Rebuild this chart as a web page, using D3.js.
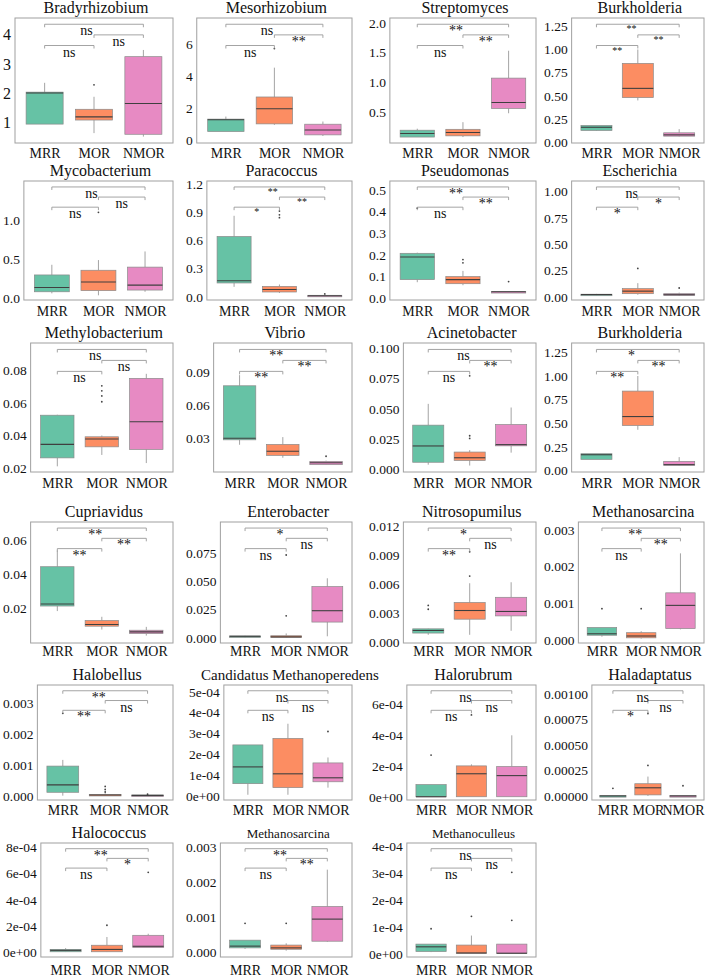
<!DOCTYPE html>
<html>
<head>
<meta charset="utf-8">
<script src="https://cdnjs.cloudflare.com/ajax/libs/d3/7.8.5/d3.min.js"></script>
<style>
  body { margin: 0; background: #fff; }
  svg text { font-family: "Liberation Serif", "Tinos", "DejaVu Serif", "Noto Serif", serif !important; fill: #111; }
</style>
</head>
<body>
<svg id="chart" width="709" height="978"></svg>
<script>
var groups = ["MRR", "MOR", "NMOR"];

var genera = ["Bradyrhizobium", "Mesorhizobium", "Streptomyces", "Burkholderia",
  "Mycobacterium", "Paracoccus", "Pseudomonas", "Escherichia",
  "Methylobacterium", "Vibrio", "Acinetobacter", "Burkholderia",
  "Cupriavidus", "Enterobacter", "Nitrosopumilus", "Methanosarcina",
  "Halobellus", "Candidatus Methanoperedens", "Halorubrum", "Haladaptatus",
  "Halococcus", "Methanosarcina", "Methanoculleus"];

// per genus, per group: [lower whisker, q1, median, q3, upper whisker]
var boxStats = [
  [[0.93, 0.93, 2.0, 2.03, 2.35], [0.62, 1.07, 1.18, 1.44, 1.87], [0.5, 0.58, 1.64, 3.25, 3.48]],
  [[0.53, 0.53, 1.27, 1.31, 1.47], [0.95, 1.01, 1.96, 2.7, 4.54], [0.25, 0.32, 0.63, 0.99, 1.16]],
  [[0.08, 0.08, 0.14, 0.195, 0.22], [0.08, 0.1, 0.157, 0.21, 0.33], [0.48, 0.56, 0.66, 1.07, 1.53]],
  [[0.12, 0.125, 0.16, 0.18, 0.18], [0.45, 0.48, 0.58, 0.85, 1.0], [0.06, 0.064, 0.078, 0.1, 0.14]],
  [[0.065, 0.085, 0.14, 0.3, 0.43], [0.04, 0.1, 0.21, 0.36, 0.49], [0.085, 0.107, 0.17, 0.4, 0.6]],
  [[0.105, 0.146, 0.17, 0.64, 0.86], [0.04, 0.05, 0.077, 0.11, 0.13], [0.005, 0.008, 0.01, 0.015, 0.02]],
  [[0.074, 0.086, 0.19, 0.207, 0.21], [0.06, 0.067, 0.086, 0.1, 0.126], [0.028, 0.029, 0.03, 0.031, 0.032]],
  [[0.015, 0.018, 0.022, 0.025, 0.028], [0.02, 0.03, 0.054, 0.078, 0.13], [0.01, 0.015, 0.02, 0.03, 0.04]],
  [[0.021, 0.0262, 0.0345, 0.0525, 0.0528], [0.028, 0.033, 0.0378, 0.0392, 0.04], [0.023, 0.0314, 0.0485, 0.0752, 0.078]],
  [[0.024, 0.0285, 0.03, 0.0779, 0.0876], [0.0121, 0.0143, 0.018, 0.0243, 0.031], [0.0055, 0.0058, 0.0076, 0.0088, 0.0095]],
  [[0.004, 0.006, 0.0194, 0.0365, 0.054], [0.0033, 0.0075, 0.0097, 0.0144, 0.016], [0.0139, 0.0195, 0.0205, 0.037, 0.051]],
  [[0.116, 0.116, 0.165, 0.176, 0.176], [0.43, 0.475, 0.57, 0.84, 1.0], [0.05, 0.053, 0.06, 0.095, 0.14]],
  [[0.018, 0.021, 0.0222, 0.0444, 0.054], [0.007, 0.009, 0.01, 0.0124, 0.0146], [0.0034, 0.0046, 0.0056, 0.0066, 0.0086]],
  [[0.0005, 0.0012, 0.0015, 0.0018, 0.002], [0.0002, 0.0005, 0.001, 0.002, 0.004], [0.0015, 0.014, 0.024, 0.0452, 0.0525]],
  [[0.00075, 0.00093, 0.0012, 0.00137, 0.0014], [0.00075, 0.00237, 0.00327, 0.0041, 0.0061], [0.00117, 0.00271, 0.00317, 0.00464, 0.0062]],
  [[0.0001, 0.00014, 0.00018, 0.00035, 0.00035], [0.00005, 0.00007, 0.00012, 0.00021, 0.00025], [0.0003, 0.00032, 0.00095, 0.00129, 0.00236]],
  [[0, 0.00011, 0.00035, 0.00096, 0.00116], [0, 0, 0.00002, 0.00004, 0.00008], [0, 0, 0.00001, 0.00002, 0.00003]],
  [[0.08e-4, 0.61e-4, 1.41e-4, 2.46e-4, 2.46e-4], [0.08e-4, 0.42e-4, 1.08e-4, 2.77e-4, 3.47e-4], [0.42e-4, 0.7e-4, 0.89e-4, 1.6e-4, 1.86e-4]],
  [[0, 0, 0, 0.79e-4, 0.8e-4], [0, 0, 1.49e-4, 2.0e-4, 2.1e-4], [0, 0, 1.37e-4, 1.96e-4, 3.98e-4]],
  [[0, 0, 0, 0.000003, 0.000005], [0, 0.00001, 0.00008, 0.00012, 0.00019], [0, 0, 0, 0.000003, 0.000005]],
  [[0, 0.02e-4, 0.13e-4, 0.2e-4, 0.3e-4], [0, 0.02e-4, 0.2e-4, 0.52e-4, 1.15e-4], [0.34e-4, 0.34e-4, 0.44e-4, 1.28e-4, 1.4e-4]],
  [[0.0001, 0.00013, 0.00018, 0.00035, 0.00035], [0.00005, 0.00009, 0.00013, 0.00021, 0.00026], [0.0003, 0.00032, 0.00095, 0.00131, 0.00236]],
  [[0.08e-4, 0.1e-4, 0.275e-4, 0.375e-4, 0.375e-4], [0.03e-4, 0.03e-4, 0.05e-4, 0.34e-4, 0.69e-4], [0.03e-4, 0.03e-4, 0.04e-4, 0.375e-4, 0.375e-4]]
];

var outliers = [
  [[], [2.28], []],
  [[], [5.74], []],
  [[], [], []],
  [[], [], []],
  [[], [1.1], []],
  [[], [0.91, 0.87, 0.84], [0.03]],
  [[0.415], [0.178, 0.163], [0.077]],
  [[], [0.27], [0.084]],
  [[], [0.0706, 0.0675, 0.0644, 0.0608], []],
  [[], [], [0.0135]],
  [[], [0.0278, 0.0256, 0.077], []],
  [[], [], []],
  [[], [], []],
  [[], [0.0195, 0.073], []],
  [[0.0038, 0.0034], [0.00684, 0.00936], []],
  [[0.00086], [0.00086], []],
  [[0.00267], [0.0003, 0.0002, 0.00012], [0.00005]],
  [[], [], [3.1e-4]],
  [[2.7e-4], [5.3e-4], []],
  [[0.000075], [0.0003, 0.00081], [0.0001]],
  [[], [2.05e-4], [6.1e-4]],
  [[0.00083], [0.00083], []],
  [[0.94e-4], [1.4e-4], [1.25e-4, 3.02e-4]]
];

var yDomains = [
  [0.28, 4.58], [-0.19, 7.66], [-0.02, 2.08], [-0.01, 1.34],
  [-0.02, 1.5], [-0.035, 1.23], [-0.008, 0.54], [-0.03, 1.1],
  [0.0175, 0.097], [-0.0009, 0.117], [-0.002, 0.104], [-0.018, 1.35],
  [-0.001, 0.071], [-0.0044, 0.102], [-0.0001, 0.01245], [-0.00007, 0.00321],
  [-0.00014, 0.00359], [-0.17e-4, 5.32e-4], [-0.21e-4, 7.24e-4], [-0.00004, 0.00109],
  [-0.38e-4, 8.34e-4], [-0.00013, 0.00312], [-0.1e-4, 4.1e-4]
];

var yTicks = [
  [1, 2, 3, 4], [0, 2, 4, 6], [0.5, 1.0, 1.5, 2.0], [0, 0.25, 0.5, 0.75, 1.0, 1.25],
  [0, 0.5, 1.0], [0, 0.3, 0.6, 0.9, 1.2], [0, 0.1, 0.2, 0.3, 0.4, 0.5], [0, 0.25, 0.5, 0.75, 1.0],
  [0.02, 0.04, 0.06, 0.08], [0.03, 0.06, 0.09], [0, 0.025, 0.05, 0.075, 0.1], [0, 0.25, 0.5, 0.75, 1.0, 1.25],
  [0.02, 0.04, 0.06], [0, 0.025, 0.05, 0.075], [0, 0.003, 0.006, 0.009, 0.012], [0, 0.001, 0.002, 0.003],
  [0, 0.001, 0.002, 0.003], [0, 1e-4, 2e-4, 3e-4, 4e-4, 5e-4], [0, 2e-4, 4e-4, 6e-4], [0, 0.00025, 0.0005, 0.00075, 0.001],
  [0, 2e-4, 4e-4, 6e-4, 8e-4], [0, 0.001, 0.002, 0.003], [0, 1e-4, 2e-4, 3e-4, 4e-4]
];

var tickFormats = ["d", "d", ".1f", ".2f", ".1f", ".1f", ".1f", ".2f",
  ".2f", ".2f", ".3f", ".2f", ".2f", ".3f", ".3f", ".3f",
  ".3f", "sci", "sci", ".5f", "sci", ".3f", "sci"];

// significance: MRR-MOR, MOR-NMOR, MRR-NMOR
var signif = [
  ["ns", "ns", "ns"], ["ns", "**", "ns"], ["ns", "**", "**"], ["**", "**", "**"],
  ["ns", "ns", "ns"], ["*", "**", "**"], ["ns", "**", "**"], ["*", "*", "ns"],
  ["ns", "ns", "ns"], ["**", "**", "**"], ["ns", "**", "ns"], ["**", "**", "*"],
  ["**", "**", "**"], ["ns", "ns", "*"], ["**", "ns", "*"], ["ns", "**", "**"],
  ["**", "ns", "**"], ["ns", "ns", "ns"], ["ns", "ns", "ns"], ["*", "ns", "ns"],
  ["ns", "*", "**"], ["ns", "**", "**"], ["ns", "ns", "ns"]
];

var colors = { MRR: "#66C2A5", MOR: "#FC8D62", NMOR: "#E78AC3" };

// grid layout of the small panels
var rows = [
  { top: 18, bottom: 143, xlab: 158 },
  { top: 181, bottom: 300, xlab: 316 },
  { top: 343, bottom: 472, xlab: 488 },
  { top: 522, bottom: 643, xlab: 656 },
  { top: 685, bottom: 800, xlab: 815 },
  { top: 843, bottom: 957, xlab: 975 }
];
var cols = [{ x0: 2, x1: 173 }, { x0: 185, x1: 352 }, { x0: 368, x1: 536 }, { x0: 543, x1: 704 }];
var titleSize = { 17: 15, 21: 13, 22: 13 };
var smallStars = { 3: 1, 5: 1 };
var serif = "'Liberation Serif', 'Tinos', 'DejaVu Serif', serif";

function sci(v) { return d3.format(".0e")(v).replace(/e([+-])(\d)$/, "e$10$2"); }
function getFormat(spec) { return spec === "sci" ? sci : d3.format(spec); }

var svg = d3.select("#chart").attr("font-family", serif);

genera.forEach(function(name, i) {
  var r = rows[Math.floor(i / 4)], c = cols[i % 4];
  var g = svg.append("g");
  var y = d3.scaleLinear().domain(yDomains[i]).range([r.bottom, r.top]);

  // y axis first, so we know how wide the labels are
  var yAxis = g.append("g")
    .call(d3.axisLeft(y).tickValues(yTicks[i]).tickFormat(getFormat(tickFormats[i])).tickSize(0).tickPadding(4));
  yAxis.attr("font-family", serif).attr("font-size", i === 0 ? 16 : 13.5);
  yAxis.select(".domain").remove();
  yAxis.selectAll("text").attr("fill", "#111");
  var w = d3.max(yAxis.selectAll("text").nodes(), function(n) { return n.getComputedTextLength(); });
  var left = c.x0 + w + 5;
  yAxis.attr("transform", "translate(" + left + ",0)");

  var x = d3.scalePoint().domain(groups).range([left, c.x1]).padding(0.6);
  var bw = x.step() * 0.75;

  // frame
  g.append("rect")
    .attr("x", left).attr("y", r.top)
    .attr("width", c.x1 - left).attr("height", r.bottom - r.top)
    .attr("fill", "none").attr("stroke", "#a0a0a0").attr("stroke-width", 1);

  // title
  g.append("text")
    .attr("x", (left + c.x1) / 2 + 2).attr("y", r.top - 5)
    .attr("text-anchor", "middle")
    .attr("font-size", titleSize[i] || 16)
    .text(name);

  // x axis labels
  var xAxis = g.append("g")
    .attr("transform", "translate(0," + r.bottom + ")")
    .call(d3.axisBottom(x).tickSize(0));
  xAxis.attr("font-family", serif).attr("font-size", 14);
  xAxis.select(".domain").remove();
  xAxis.selectAll("text")
    .attr("y", r.xlab - r.bottom).attr("dy", 0)
    .attr("fill", "#111");

  var stats = groups.map(function(gr, j) { return { grp: gr, s: boxStats[i][j], out: outliers[i][j] }; });

  var boxes = g.selectAll(".box").data(stats).enter().append("g");

  // whiskers
  boxes.append("line")
    .attr("x1", function(d) { return x(d.grp); }).attr("x2", function(d) { return x(d.grp); })
    .attr("y1", function(d) { return y(d.s[4]); }).attr("y2", function(d) { return y(d.s[3]); })
    .attr("stroke", "#9a9a9a").attr("stroke-width", 0.9);
  boxes.append("line")
    .attr("x1", function(d) { return x(d.grp); }).attr("x2", function(d) { return x(d.grp); })
    .attr("y1", function(d) { return y(d.s[1]); }).attr("y2", function(d) { return y(d.s[0]); })
    .attr("stroke", "#9a9a9a").attr("stroke-width", 0.9);

  boxes.append("rect")
    .attr("x", function(d) { return x(d.grp) - bw / 2; })
    .attr("y", function(d) { return y(d.s[3]); })
    .attr("width", bw)
    .attr("height", function(d) { return Math.max(1.5, y(d.s[1]) - y(d.s[3])); })
    .attr("fill", function(d) { return colors[d.grp]; })
    .attr("stroke", "#8a8a8a").attr("stroke-width", 0.7);

  boxes.append("line")
    .attr("x1", function(d) { return x(d.grp) - bw / 2; })
    .attr("x2", function(d) { return x(d.grp) + bw / 2; })
    .attr("y1", function(d) { return y(d.s[2]); }).attr("y2", function(d) { return y(d.s[2]); })
    .attr("stroke", "#3f3f3f").attr("stroke-width", 1.1);

  boxes.selectAll("circle").data(function(d) { return d.out.map(function(v) { return { grp: d.grp, v: v }; }); })
    .enter().append("circle")
    .attr("cx", function(d) { return x(d.grp); })
    .attr("cy", function(d) { return y(d.v); })
    .attr("r", 0.9).attr("fill", "#444");

  // comparison brackets
  var pairs = [[0, 1, 0.22], [1, 2, 0.135], [0, 2, 0.05]];
  var h = r.bottom - r.top;
  pairs.forEach(function(p, k) {
    var xa = x(groups[p[0]]), xb = x(groups[p[1]]);
    var by = r.top + p[2] * h;
    g.append("path")
      .attr("d", "M" + xa + "," + (by + 3) + "V" + by + "H" + xb + "V" + (by + 3))
      .attr("fill", "none").attr("stroke", "#9a9a9a").attr("stroke-width", 0.9);
    var lx = k === 2 ? xa + 0.85 * x.step() : (xa + xb) / 2;
    var lab = signif[i][k];
    var small = smallStars[i] && lab !== "ns";
    g.append("text")
      .attr("x", lx).attr("y", by + (small ? 8 : 11))
      .attr("text-anchor", "middle")
      .attr("fill", "#333")
      .attr("font-size", small ? 10 : 14)
      .text(lab);
  });
});
</script>
</body>
</html>
